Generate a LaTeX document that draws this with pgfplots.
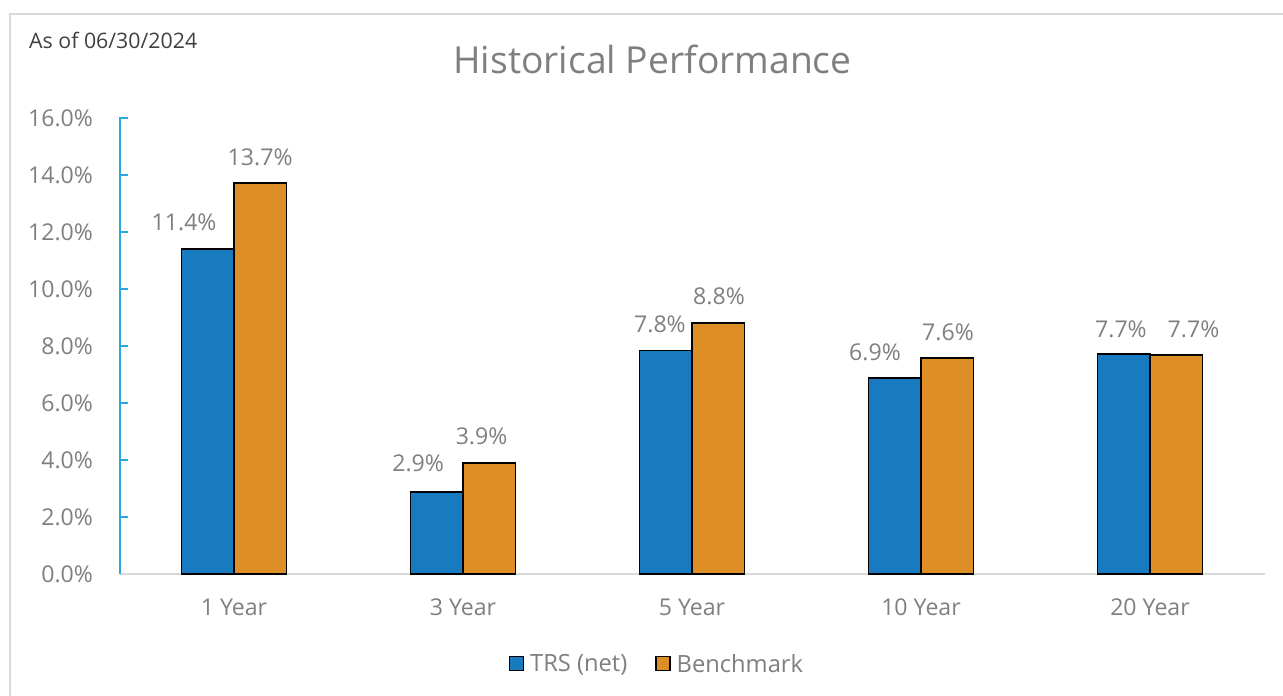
\documentclass[border=0pt]{standalone}
\usepackage{fontspec}
\setmainfont{Open Sans}
\usepackage{pgfplots}
\pgfplotsset{compat=1.18}
\definecolor{trsblue}{RGB}{24,122,191}
\definecolor{benchorange}{RGB}{222,142,38}
\definecolor{txtgray}{RGB}{127,127,127}
\definecolor{axblue}{RGB}{41,168,224}
\definecolor{framegray}{RGB}{217,217,217}
\begin{document}
\begin{tikzpicture}[x=1bp,y=1bp]
\path[use as bounding box] (0,0) rectangle (1283,696);
\begin{scope}
\clip (0,0) rectangle (1283,696);
\draw[framegray, line width=2bp] (10,-10) -- (10,682) -- (1300,682);
\end{scope}
\node[anchor=base west, text=black!75, inner sep=0pt, font=\fontsize{21.4}{25}\selectfont] at (29,647) {As of 06/30/2024};
\node[anchor=base, text=txtgray, inner sep=0pt, font=\fontsize{37.4}{44}\selectfont] at (652.5,622) {Historical Performance};
\begin{axis}[
  at={(119.5bp,122bp)}, anchor=south west,
  scale only axis, width=1145bp, height=456bp,
  xmin=-0.5, xmax=4.5, ymin=0, ymax=16,
  ytick={0,2,...,16},
  xtick={0,1,2,3,4},
  xticklabels={1 Year,3 Year,5 Year,10 Year,20 Year},
  /pgf/number format/assume math mode=true,
  yticklabel={\pgfmathprintnumber[fixed,fixed zerofill,precision=1]{\tick}\%},
  axis x line*=bottom, axis y line*=left,
  x axis line style={framegray, line width=1.5bp, -},
  y axis line style={axblue, line width=1.5bp, -},
  major tick length=8bp,
  ytick style={axblue, line width=1.5bp},
  xtick style={draw=none},
  tick align=inside,
  ticklabel style={text=txtgray, font=\fontsize{23.2}{27}\selectfont},
  yticklabel style={xshift=-23bp},
  xticklabel style={yshift=-21bp},
  legend style={at={(0.4694,-0.197)}, anchor=center, draw=none, legend columns=2,
    font=\fontsize{23.8}{27}\selectfont, text=txtgray,
    /tikz/every odd column/.append style={column sep=4bp},
    /tikz/every even column/.append style={column sep=26bp}},
  legend image code/.code={\draw[#1, draw=black, line width=1.3bp] (0bp,-6.5bp) rectangle (14bp,7.5bp);},
  clip=false,
]
\addplot[ybar, bar width=0.23, fill=trsblue, draw=black, line width=1.5bp, bar shift=-0.115] coordinates {(0,11.4) (1,2.88) (2,7.84) (3,6.88) (4,7.72)};
\addplot[ybar, bar width=0.23, fill=benchorange, draw=black, line width=1.5bp, bar shift=0.115] coordinates {(0,13.72) (1,3.89) (2,8.81) (3,7.58) (4,7.68)};
\legend{TRS (net),Benchmark}
\addplot[draw=none, mark=none, nodes near coords, point meta=explicit symbolic,
  every node near coord/.style={anchor=center, text=txtgray, font=\fontsize{23.2}{27}\selectfont}]
  coordinates {
  (-0.218,12.35) [11.4\%]
  (0.114,14.63) [13.7\%]
  (0.804,3.89) [2.9\%]
  (1.081,4.84) [3.9\%]
  (1.860,8.77) [7.8\%]
  (2.118,9.75) [8.8\%]
  (2.799,7.79) [6.9\%]
  (3.118,8.49) [7.6\%]
  (3.873,8.60) [7.7\%]
  (4.190,8.60) [7.7\%]
  };
\end{axis}
\draw[axblue, line width=2bp] (119.5,121.5) -- (119.5,578.5);
\end{tikzpicture}
\end{document}
